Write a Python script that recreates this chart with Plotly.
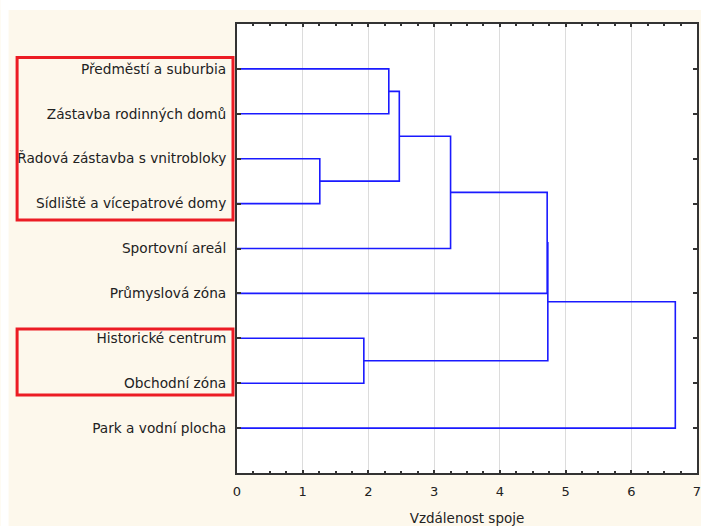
import plotly.graph_objects as go

# ---- data ----
leaves = [
    "Předměstí a suburbia",
    "Zástavba rodinných domů",
    "Řadová zástavba s vnitrobloky",
    "Sídliště a vícepatrové domy",
    "Sportovní areál",
    "Průmyslová zóna",
    "Historické centrum",
    "Obchodní zóna",
    "Park a vodní plocha",
]
# merges: (left node, right node, linkage distance); leaves are 0..8, new clusters 9..
merge_left = [2, 6, 0, 11, 12, 13, 14, 15]
merge_right = [3, 7, 1, 9, 4, 5, 10, 8]
merge_dist = [1.26, 1.93, 2.31, 2.47, 3.25, 4.72, 4.73, 6.67]
x_ticks = [0, 1, 2, 3, 4, 5, 6, 7]
x_title = "Vzdálenost spoje"

# ---- build dendrogram segments ----
pos = {i: (0.0, float(i + 1)) for i in range(len(leaves))}  # node -> (height, y)
xs, ys = [], []
for k, (a, b, d) in enumerate(zip(merge_left, merge_right, merge_dist)):
    ha, ya = pos[a]
    hb, yb = pos[b]
    xs += [ha, d, d, hb, None]
    ys += [ya, ya, yb, yb, None]
    pos[len(leaves) + k] = (d, (ya + yb) / 2)

fig = go.Figure()
fig.add_trace(go.Scatter(x=xs, y=ys, mode="lines",
                         line=dict(color="#1a1aff", width=1.6),
                         hoverinfo="skip", showlegend=False))

L, R, T, B = 236.5, 4.3, 24, 53
W, H = 701, 526
pw = W - L - R
ph = H - T - B

def px(x):
    return (x - L) / pw

def py(y):
    return 1 - (y - T) / ph

shapes = [
    # white strips above/left of the cream panel
    dict(type="rect", xref="paper", yref="paper", x0=px(0), x1=px(W), y0=py(0), y1=py(10),
         fillcolor="white", line=dict(width=0), layer="below"),
    dict(type="rect", xref="paper", yref="paper", x0=px(0), x1=px(8), y0=py(0), y1=py(H),
         fillcolor="white", line=dict(width=0), layer="below"),
    # red highlight boxes
    dict(type="rect", xref="paper", yref="paper", x0=px(16.5), x1=px(232.5), y0=py(57.5), y1=py(220),
         line=dict(color="#ec1c24", width=3), fillcolor="rgba(0,0,0,0)"),
    dict(type="rect", xref="paper", yref="paper", x0=px(16.5), x1=px(232.5), y0=py(329), y1=py(395),
         line=dict(color="#ec1c24", width=3), fillcolor="rgba(0,0,0,0)"),
]

fig.update_layout(
    width=W, height=H,
    margin=dict(l=L, r=R, t=T, b=B, pad=0, autoexpand=False),
    paper_bgcolor="#fdf8ec",
    plot_bgcolor="white",
    font=dict(family="DejaVu Sans", size=13, color="#222222"),
    shapes=shapes,
    xaxis=dict(
        range=[0, 7], tickvals=x_ticks, ticktext=[str(v) for v in x_ticks],
        showgrid=True, gridcolor="#dcdcdc", gridwidth=1, automargin=False,
        zeroline=False, showline=True, linecolor="#333333", linewidth=2, mirror="ticks",
        ticks="inside", ticklen=3, tickwidth=1.5, tickcolor="#333333",
        minor=dict(dtick=0.25, ticks="inside", ticklen=2, tickwidth=1.5, tickcolor="#333333", showgrid=False),
        title=dict(text=x_title, standoff=22, font=dict(size=13.5)),
        tickfont=dict(size=13), ticklabelstandoff=5, ticklabeloverflow="allow",
    ),
    yaxis=dict(
        range=[10, 0], tickvals=list(range(1, len(leaves) + 1)), ticktext=leaves,
        showgrid=False, zeroline=False, showline=True, linecolor="#333333", linewidth=2,
        mirror="ticks", ticks="inside", ticklen=4, tickwidth=1.5, tickcolor="#333333",
        tickfont=dict(size=13.7), ticklabelstandoff=6, automargin=False,
        ticklabeloverflow="allow",
    ),
)

fig.write_html("out.html")
